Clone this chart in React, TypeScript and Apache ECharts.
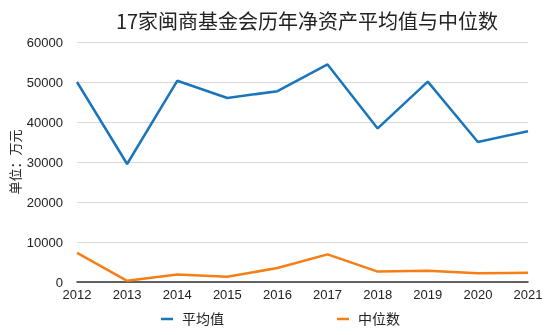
import React, { useEffect, useRef } from "react";
import * as echarts from "echarts";

const years = ["2012", "2013", "2014", "2015", "2016", "2017", "2018", "2019", "2020", "2021"];
const meanValues = [50000, 29500, 50300, 46000, 47700, 54400, 38400, 50100, 35000, 37700];
const medianValues = [7300, 300, 1900, 1300, 3500, 6900, 2600, 2800, 2200, 2300];
const seriesNames = ["平均值", "中位数"];
const colors = ["#1a75bb", "#f57e16"];

export default function App() {
  const ref = useRef<HTMLDivElement>(null);
  useEffect(() => {
    const chart = echarts.init(ref.current!, null, { renderer: "svg" });
    const font = "'Liberation Sans', 'Noto Sans CJK SC', sans-serif";
    const legendBase = {
      top: 312,
      padding: 0,
      icon: "rect",
      itemWidth: 12,
      itemHeight: 2.5,
      textStyle: { fontSize: 14, color: "#222", fontFamily: font, padding: [0, 0, 0, 4] },
    };
    chart.setOption({
      animation: false,
      color: colors,
      title: {
        text: "17家闽商基金会历年净资产平均值与中位数",
        left: 302,
        textAlign: "center",
        top: 5,
        textStyle: { fontSize: 20, fontWeight: "normal", color: "#222", fontFamily: "'Noto Sans CJK SC', sans-serif" },
      },
      legend: [
        { ...legendBase, data: [seriesNames[0]], left: 161 },
        { ...legendBase, data: [seriesNames[1]], left: 337 },
      ],
      grid: { left: 77, right: 22, top: 42, bottom: 53, containLabel: false, outerBoundsMode: "none" },
      xAxis: {
        type: "category",
        data: years,
        boundaryGap: false,
        axisLine: { lineStyle: { color: "#333", width: 1.5 } },
        axisTick: { show: false },
        axisLabel: { color: "#222", fontSize: 13, fontFamily: font, margin: 6, showMaxLabel: true, hideOverlap: false },
      },
      yAxis: {
        type: "value",
        min: 0,
        max: 60000,
        interval: 10000,
        name: "单位：万元",
        nameLocation: "middle",
        nameGap: 56,
        nameMoveOverlap: false,
        nameTextStyle: { fontSize: 13, color: "#222", fontFamily: "'Noto Sans CJK SC', sans-serif" },
        axisLine: { show: false },
        axisTick: { show: false },
        axisLabel: { color: "#222", fontSize: 13, fontFamily: font, margin: 14, formatter: (v: number) => String(v) },
        splitLine: { lineStyle: { color: "#d9d9d9", width: 1 } },
      },
      series: [
        {
          name: seriesNames[0],
          type: "line",
          data: meanValues,
          symbol: "none",
          lineStyle: { width: 2.5, color: colors[0] },
        },
        {
          name: seriesNames[1],
          type: "line",
          data: medianValues,
          symbol: "none",
          lineStyle: { width: 2.5, color: colors[1] },
        },
      ],
    });
    return () => chart.dispose();
  }, []);
  return <div ref={ref} style={{ width: 550, height: 335, position: "fixed", left: 0, top: 0 }} />;
}
